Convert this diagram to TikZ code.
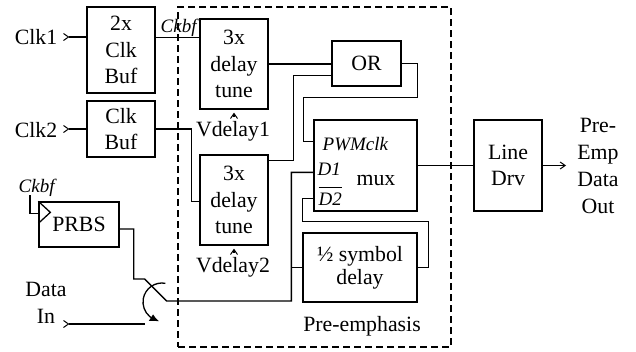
\documentclass[tikz,border=0pt]{standalone}
\usepackage{fontspec}
\setmainfont{Liberation Serif}
\usetikzlibrary{arrows.meta,calc,bending}
\tikzset{
  chevr/.tip={Straight Barb[reversed,length=5pt,width=7pt,line width=1pt]},
  chev/.tip={Straight Barb[length=5pt,width=7pt,line width=1pt]}}
\begin{document}
\begin{tikzpicture}[x=1pt,y=-1pt,line width=1.3pt,
  txt/.style={inner sep=0pt,align=center,font=\fontsize{21.8}{26.5}\selectfont},
  box/.style={draw,rectangle,inner sep=0pt,align=center,font=\fontsize{21.8}{26.5}\selectfont},
  ital/.style={inner sep=0pt,font=\fontsize{19}{22}\selectfont\itshape},
  dashbox/.style={draw,dash pattern=on 7pt off 4pt,rectangle,inner sep=0pt}]
\useasboundingbox (0,0) rectangle (636,351);
% frame of the pre-emphasis block
\node[dashbox,minimum width=273pt,minimum height=340pt] (pre) at (314.5,177) {};
% boxes
\node[box,minimum width=68pt,minimum height=86pt] (buf1) at (121,50) {2x\\Clk\\Buf};
\node[box,minimum width=68pt,minimum height=56pt] (buf2) at (121,129) {Clk\\Buf};
\node[box,minimum width=68pt,minimum height=90pt] (dly1) at (234,64) {3x\\delay\\tune};
\node[box,minimum width=68pt,minimum height=90pt] (dly2) at (234,200) {3x\\delay\\tune};
\node[box,minimum width=69pt,minimum height=45pt] (or) at (366.5,63.5) {OR};
\node[box,minimum width=103pt,minimum height=91pt] (mux) at (365.5,165.5) {};
\node[box,minimum width=68pt,minimum height=91pt] (drv) at (508,165.5) {Line\\Drv};
\node[box,minimum width=114pt,minimum height=69pt,font=\fontsize{21.8}{23}\selectfont] (half) at (360,267.5) {½ symbol\\delay};
\node[box,minimum width=80pt,minimum height=45pt] (prbs) at (79,224.5) {PRBS};
% labels
\node[txt,anchor=base] (clk1) at (36,44) {Clk1};
\node[txt,anchor=base] (clk2) at (36,137) {Clk2};
\node[txt,anchor=base] (vd1) at (233,136) {Vdelay1};
\node[txt,anchor=base] (vd2) at (233,272) {Vdelay2};
\node[txt,anchor=base] (data) at (46,296) {Data};
\node[txt,anchor=base] (in) at (46,323) {In};
\node[txt,anchor=base] (prelbl) at (362,331) {Pre-emphasis};
\node[txt,font=\fontsize{21.8}{26.7}\selectfont] (outlbl) at (598,166) {Pre-\\Emp\\Data\\Out};
\node[txt,anchor=base] (muxlbl) at (376,185) {mux};
\node[ital,anchor=base west] (ck1) at (160,32) {Ckbf};
\node[ital,anchor=base west] (ck2) at (18,192) {Ckbf};
\node[ital,anchor=base west] (pwm) at (322,150) {PWMclk};
\node[ital,anchor=base west] (d1) at (317,175) {D1};
\node[ital,anchor=base west] (d2) at (318,205) {\vbox{\hrule height 1.2pt\kern 4pt\hbox{D2}}};
% coordinates
\coordinate (c1) at (63,37);
\coordinate (c2) at (63,129);
\coordinate (din) at (63,324);
\coordinate (dinend) at (145,324);
\coordinate (outend) at (566,165.5);
\coordinate (sw) at (162,302);
\coordinate (dly1in) at ($(dly1.north west)+(0,19)$);
\coordinate (dly2in) at ($(dly2.north west)+(0,47)$);
\coordinate (pwmin) at ($(mux.north west)+(0,22)$);
\coordinate (d1in) at ($(mux.north west)+(0,53)$);
\coordinate (d1x) at ($(d1in)+(-22,0)$);
\coordinate (d2in) at ($(mux.north west)+(0,79)$);
\coordinate (clkin) at ($(prbs.north west)+(0,12)$);
% clock triangle of PRBS
\draw (prbs.north west) -- ($(prbs.north west)+(12,11)$) -- ($(prbs.north west)+(0,22)$);
% connectors
\draw[{chevr}-] (c1) -- (buf1.west |- c1);
\draw[{chevr}-] (c2) -- (buf2.west |- c2);
\draw (buf1.east |- dly1in) -- (dly1in);
\draw (buf2.east) -- ++(36,0) |- (dly2in);
\draw (dly1.east) -- (dly1.east -| or.west);
\draw ($(dly2.north east)+(0,6)$) -- ++(25,0) |- ($(or.south west)+(0,-11)$);
\draw (or.east) -| ($(mux.north east)+(0,-22)$) -- ++(-114,0) |- (pwmin);
\draw ($(ck2.base west)+(12,3)$) |- (clkin);
\draw ($(prbs.east)+(0,4.5)$) -- ++(14,0) -- ++(0,50) -- ++(11,0) -- ++(22,22) -| (d1x) -- (d1in);
\draw (half.west) -- (half.west -| d1x);
\draw (half.east) -- ++(11,0) |- ($(half.north west)+(0,-11)$) |- (d2in);
\draw (mux.east) -- (drv.west);
\draw[-{chev}] (drv.east) -- (outend);
\draw[-{chev},shorten <=3pt,shorten >=3pt] (dly1.south |- vd1.north) -- (dly1.south);
\draw[-{chev},shorten <=3pt,shorten >=3pt] (dly2.south |- vd2.north) -- (dly2.south);
\draw[{chevr}-] (din) -- (dinend);
\draw[-{Latex[bend,length=9pt,width=8pt]}] ($(sw)+(-80:19)$) arc[start angle=-80,end angle=-262,radius=19];
\end{tikzpicture}
\end{document}
